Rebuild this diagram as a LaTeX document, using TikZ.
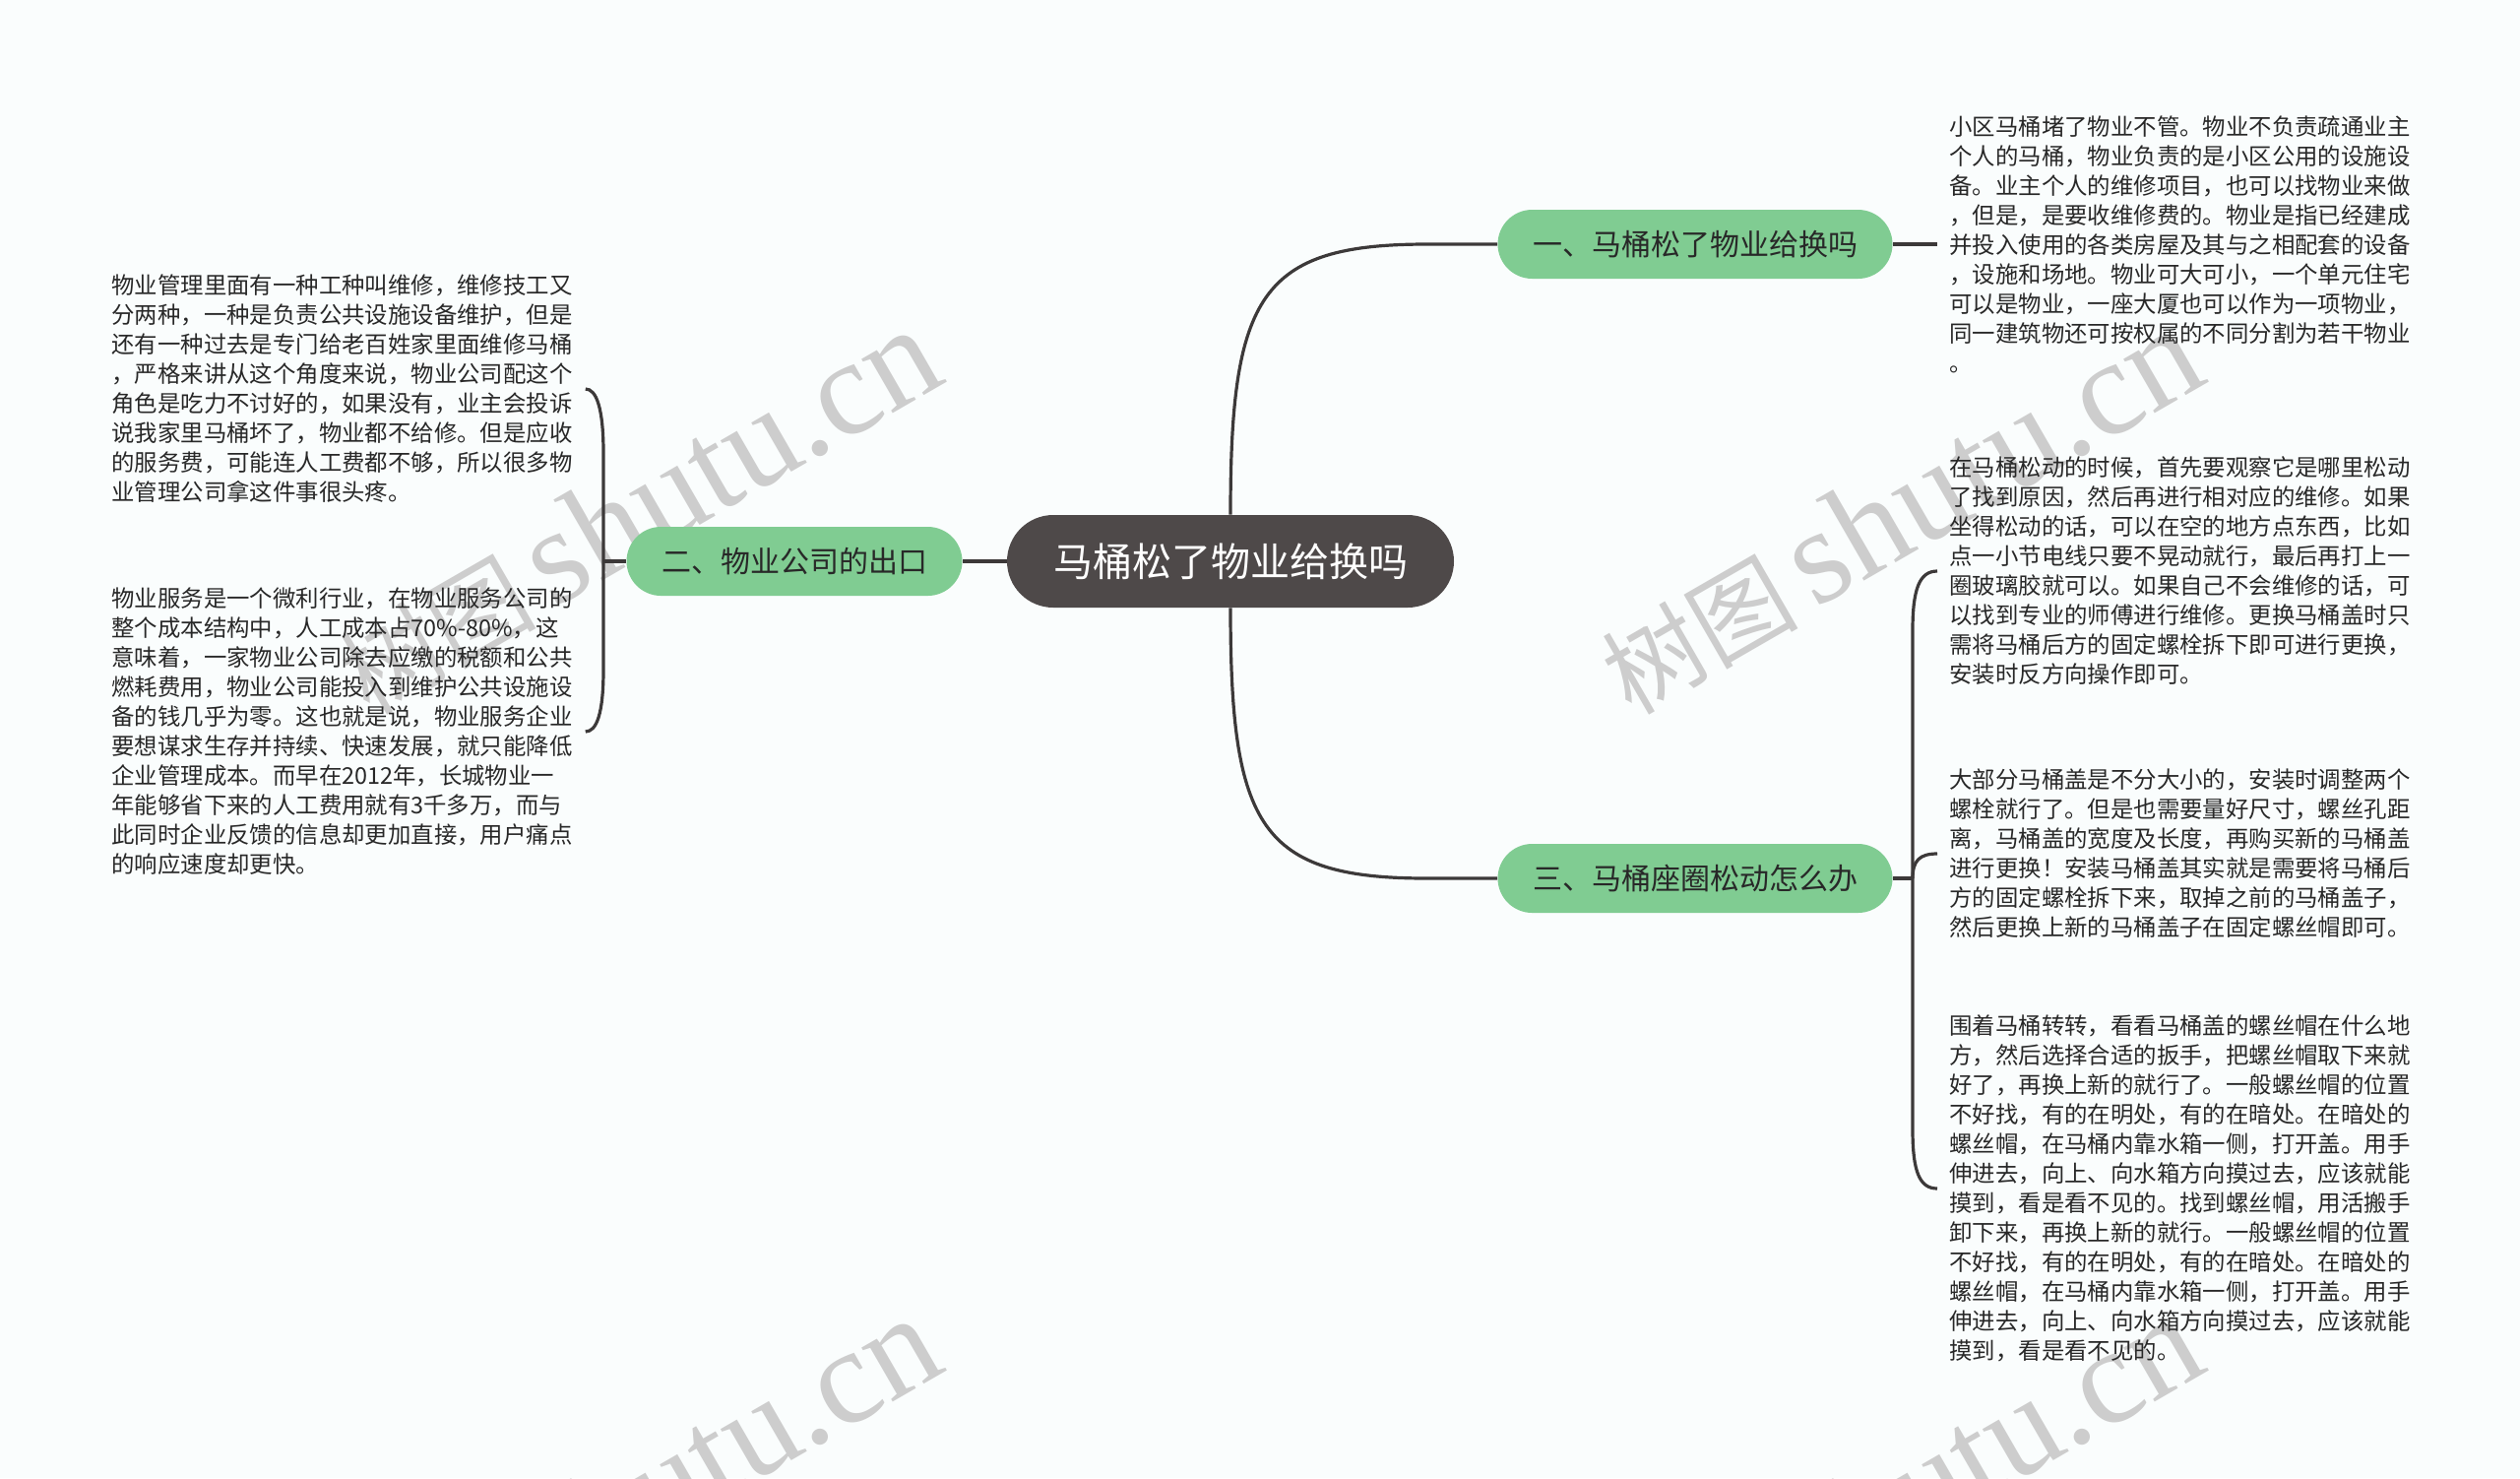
\documentclass[tikz,border=0pt]{standalone}
\usepackage{fontspec}
\setmainfont{Noto Sans CJK SC}
\newfontfamily\wmserif{Liberation Serif}
\usetikzlibrary{calc}
\definecolor{bgc}{RGB}{250,253,253}
\definecolor{rootc}{RGB}{78,73,73}
\definecolor{greenc}{RGB}{128,204,146}
\definecolor{txtc}{RGB}{40,40,40}
\definecolor{linec}{RGB}{60,57,57}
\definecolor{wmc}{RGB}{205,205,205}
\begin{document}
\begin{tikzpicture}[x=0.5pt,y=-0.5pt,
  rootnode/.style={fill=rootc, text=white, rounded corners=23.5pt, minimum width=227pt, minimum height=47pt, inner sep=0pt, font=\fontsize{20pt}{24pt}\selectfont},
  branch/.style={fill=greenc, text=txtc, rounded corners=17.5pt, minimum height=35pt, inner sep=0pt, font=\fontsize{15pt}{18pt}\selectfont},
  desc/.style={align=left, inner sep=0pt, text=txtc, anchor=west, font=\fontsize{11.7pt}{15pt}\selectfont},
  conn/.style={draw=linec, line width=1.6pt},
  wm/.style={text=wmc, rotate=30, inner sep=0pt}]
\useasboundingbox[fill=bgc] (0,0) rectangle (2560,1501);

% watermarks
\node[wm] (wm1) at (648,519) {\fontsize{50pt}{50pt}\selectfont 树图\,\wmserif\fontsize{69pt}{69pt}\selectfont shutu.cn};
\node[wm] (wm2) at (1930,519) {\fontsize{50pt}{50pt}\selectfont 树图\,\wmserif\fontsize{69pt}{69pt}\selectfont shutu.cn};
\node[wm] (wm3) at (648,1523) {\fontsize{50pt}{50pt}\selectfont 树图\,\wmserif\fontsize{69pt}{69pt}\selectfont shutu.cn};
\node[wm] (wm4) at (1930,1523) {\fontsize{50pt}{50pt}\selectfont 树图\,\wmserif\fontsize{69pt}{69pt}\selectfont shutu.cn};

% main nodes
\node[rootnode] (root) at (1250,570) {马桶松了物业给换吗};
\node[branch, minimum width=200.5pt] (b1) at (1722,248) {一、马桶松了物业给换吗};
\node[branch, minimum width=170.5pt] (b2) at (807,570) {二、物业公司的出口};
\node[branch, minimum width=200.5pt] (b3) at (1722,892) {三、马桶座圈松动怎么办};

% text blocks
\node[desc] (l1) at (113,395) {物业管理里面有一种工种叫维修，维修技工又\\
分两种，一种是负责公共设施设备维护，但是\\
还有一种过去是专门给老百姓家里面维修马桶\\
，严格来讲从这个角度来说，物业公司配这个\\
角色是吃力不讨好的，如果没有，业主会投诉\\
说我家里马桶坏了，物业都不给修。但是应收\\
的服务费，可能连人工费都不够，所以很多物\\
业管理公司拿这件事很头疼。};

\node[desc] (l2) at (113,743) {物业服务是一个微利行业，在物业服务公司的\\
整个成本结构中，人工成本占70\%-80\%，这\\
意味着，一家物业公司除去应缴的税额和公共\\
燃耗费用，物业公司能投入到维护公共设施设\\
备的钱几乎为零。这也就是说，物业服务企业\\
要想谋求生存并持续、快速发展，就只能降低\\
企业管理成本。而早在2012年，长城物业一\\
年能够省下来的人工费用就有3千多万，而与\\
此同时企业反馈的信息却更加直接，用户痛点\\
的响应速度却更快。};

\node[desc] (r1) at (1980,248) {小区马桶堵了物业不管。物业不负责疏通业主\\
个人的马桶，物业负责的是小区公用的设施设\\
备。业主个人的维修项目，也可以找物业来做\\
，但是，是要收维修费的。物业是指已经建成\\
并投入使用的各类房屋及其与之相配套的设备\\
，设施和场地。物业可大可小，一个单元住宅\\
可以是物业，一座大厦也可以作为一项物业，\\
同一建筑物还可按权属的不同分割为若干物业\\
。};

\node[desc] (r2) at (1980,580) {在马桶松动的时候，首先要观察它是哪里松动\\
了找到原因，然后再进行相对应的维修。如果\\
坐得松动的话，可以在空的地方点东西，比如\\
点一小节电线只要不晃动就行，最后再打上一\\
圈玻璃胶就可以。如果自己不会维修的话，可\\
以找到专业的师傅进行维修。更换马桶盖时只\\
需将马桶后方的固定螺栓拆下即可进行更换，\\
安装时反方向操作即可。};

\node[desc] (r3) at (1980,867) {大部分马桶盖是不分大小的，安装时调整两个\\
螺栓就行了。但是也需要量好尺寸，螺丝孔距\\
离，马桶盖的宽度及长度，再购买新的马桶盖\\
进行更换！安装马桶盖其实就是需要将马桶后\\
方的固定螺栓拆下来，取掉之前的马桶盖子，\\
然后更换上新的马桶盖子在固定螺丝帽即可。};

\node[desc] (r4) at (1980,1207) {围着马桶转转，看看马桶盖的螺丝帽在什么地\\
方，然后选择合适的扳手，把螺丝帽取下来就\\
好了，再换上新的就行了。一般螺丝帽的位置\\
不好找，有的在明处，有的在暗处。在暗处的\\
螺丝帽，在马桶内靠水箱一侧，打开盖。用手\\
伸进去，向上、向水箱方向摸过去，应该就能\\
摸到，看是看不见的。找到螺丝帽，用活搬手\\
卸下来，再换上新的就行。一般螺丝帽的位置\\
不好找，有的在明处，有的在暗处。在暗处的\\
螺丝帽，在马桶内靠水箱一侧，打开盖。用手\\
伸进去，向上、向水箱方向摸过去，应该就能\\
摸到，看是看不见的。};

% connectors
\draw[conn] (root.north) .. controls (1250,300) and (1280,248) .. (1450,248) -- (b1.west);
\draw[conn] (root.south) .. controls (1250,840) and (1280,892) .. (1450,892) -- (b3.west);
\draw[conn] (root.west) -- (b2.east);

\coordinate (jl) at (613,570);
\draw[conn] (b2.west) -- (jl);
\draw[conn] (jl) -- (613,460) .. controls (613,415) and (606,395) .. ($(l1.east)+(13,0)$);
\draw[conn] (jl) -- (613,680) .. controls (613,725) and (606,743) .. ($(l2.east)+(13,0)$);

\draw[conn] (b1.east) -- ($(r1.west)+(-12,0)$);

\coordinate (jr) at (1943,892);
\draw[conn] (b3.east) -- (jr);
\draw[conn] (jr) -- (1943,640) .. controls (1943,598) and (1950,580) .. ($(r2.west)+(-12,0)$);
\draw[conn] (jr) .. controls (1943,874) and (1950,867) .. ($(r3.west)+(-12,0)$);
\draw[conn] (jr) -- (1943,1147) .. controls (1943,1190) and (1950,1207) .. ($(r4.west)+(-12,0)$);
\end{tikzpicture}
\end{document}
